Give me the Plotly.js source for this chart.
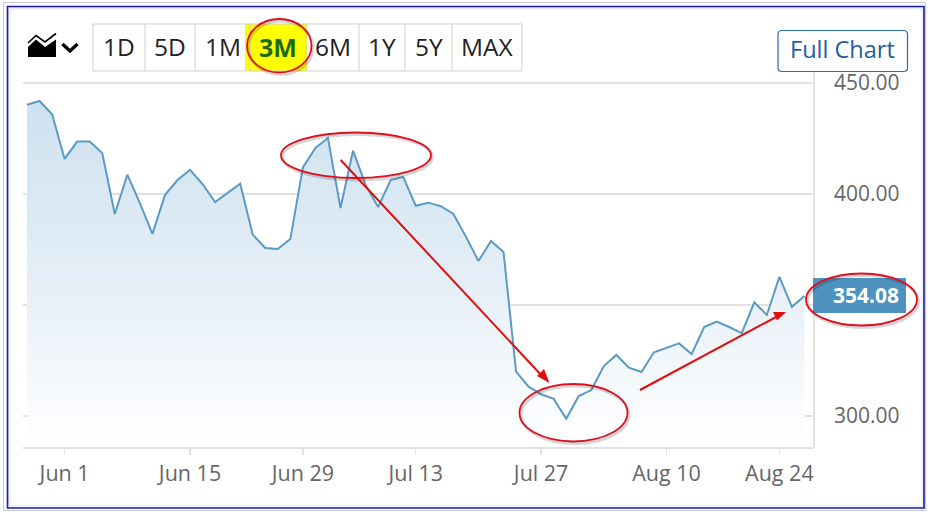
<!DOCTYPE html>
<html>
<head>
<meta charset="utf-8">
<script src="https://cdn.plot.ly/plotly-3.0.1.min.js"></script>
<style>html,body{margin:0;padding:0;background:#fff}#chart{width:931px;height:512px}</style>
</head>
<body>
<div id="chart"></div>
<script>
const dates = ["May 27","May 28","May 29","Jun 1","Jun 2","Jun 3","Jun 4","Jun 5","Jun 8","Jun 9","Jun 10","Jun 11","Jun 12",
"Jun 15","Jun 16","Jun 17","Jun 18","Jun 22","Jun 23","Jun 24","Jun 25","Jun 26","Jun 29","Jun 30","Jul 1","Jul 2",
"Jul 6","Jul 7","Jul 8","Jul 9","Jul 10","Jul 13","Jul 14","Jul 15","Jul 16","Jul 17","Jul 20","Jul 21","Jul 22","Jul 23","Jul 24",
"Jul 27","Jul 28","Jul 29","Jul 30","Jul 31","Aug 3","Aug 4","Aug 5","Aug 6","Aug 7","Aug 10","Aug 11","Aug 12","Aug 13","Aug 14",
"Aug 17","Aug 18","Aug 19","Aug 20","Aug 24","Aug 25","Aug 26"];
const prices = [440.2,441.9,435.9,415.8,423.6,423.6,418.5,391.0,408.7,395.9,382.0,399.5,406.3,410.9,404.5,396.4,400.5,404.6,381.7,375.7,375.2,379.7,
412.0,420.7,425.2,393.7,419.5,404.1,394.1,406.3,407.7,394.7,396.1,394.5,391.0,380.8,369.8,378.8,373.9,
320.0,313.2,309.8,307.7,298.8,309.0,311.7,322.5,327.5,321.8,319.8,328.7,330.8,332.7,327.9,340.1,342.5,340.1,337.3,351.2,345.5,362.7,349.2,354.08];
const xTickDates = ["Jun 1","Jun 15","Jun 29","Jul 13","Jul 27","Aug 10","Aug 24"];
const yTickVals = [300,350,400,450];
const yTickText = ["300.00","","400.00","450.00"];
const rangeButtons = ["1D","5D","1M","3M","6M","1Y","5Y","MAX"];
const buttonEdges = [93,145,195,250,306,359,405,452,522];
const lastPrice = "354.08";

const L=23,R=814,T=81,B=447;
const fx=x=>(x-L)/(R-L), fy=y=>(B-y)/(B-T);
const rect=(x0,y0,x1,y1,o)=>Object.assign({type:'rect',xref:'paper',yref:'paper',x0:fx(x0),x1:fx(x1),y0:fy(y0),y1:fy(y1),line:{width:0}},o);
const ell=(x0,y0,x1,y1,o)=>Object.assign({type:'circle',xref:'paper',yref:'paper',x0:fx(x0),x1:fx(x1),y0:fy(y0),y1:fy(y1)},o);
const seg=(x0,y0,x1,y1,c,w)=>({type:'line',xref:'paper',yref:'paper',x0:fx(x0),x1:fx(x1),y0:fy(y0),y1:fy(y1),line:{color:c,width:w}});
const poly=(pts,fill,line)=>({type:'path',xref:'paper',yref:'paper',path:'M'+pts.map(p=>fx(p[0])+','+fy(p[1])).join(' L')+(fill?' Z':''),fillcolor:fill||'rgba(0,0,0,0)',line:line||{width:0}});

const shapes=[];
// outer frames
shapes.push(rect(3.5,2.5,925.5,510.5,{line:{color:'#c8c8c8',width:1}}));
shapes.push(rect(9,8,923,507,{line:{color:'rgba(80,80,200,0.12)',width:3}}));
shapes.push(rect(7.5,6.5,924,508,{line:{color:'#1c1cb0',width:1.6}}));
// range buttons
shapes.push(rect(245,24,307.5,71,{fillcolor:'#ffff00'}));
shapes.push(rect(buttonEdges[0],24,buttonEdges[8],71,{line:{color:'#cfcfcf',width:1}}));
buttonEdges.slice(1,-1).forEach(x=>shapes.push(seg(x,24,x,71,'#cfcfcf',1)));
// chart-type icon
shapes.push(poly([[28,57],[28,47],[36,39.5],[45,47],[56,39.5],[56,57]],'#000'));
shapes.push(poly([[28,43],[36,35.5],[45,42],[56,33.5]],null,{color:'#000',width:1.6}));
shapes.push(poly([[62.5,44],[70,51],[77.5,44]],null,{color:'#000',width:3.4}));
// right frame line of the plot
shapes.push(seg(814,72,814,447,'#e2e2e2',2));
// full chart button
const bx0=fx(778),bx1=fx(907.5),by0=fy(30.5),by1=fy(71.5),rx=4/(R-L),ry=4/(B-T);
shapes.push({type:'path',xref:'paper',yref:'paper',path:`M${bx0+rx},${by0} L${bx1-rx},${by0} Q${bx1},${by0} ${bx1},${by0-ry} L${bx1},${by1+ry} Q${bx1},${by1} ${bx1-rx},${by1} L${bx0+rx},${by1} Q${bx0},${by1} ${bx0},${by1+ry} L${bx0},${by0-ry} Q${bx0},${by0} ${bx0+rx},${by0} Z`,line:{color:'#2b6ca6',width:1.2},fillcolor:'#fff'});
// price tag
shapes.push(rect(813,278,906,313,{fillcolor:'#4e92bf'}));
// annotation ellipses with soft shadows
const ellipses=[[247,19,311.5,72.5],[281,132.5,431,178],[519.5,384,627.5,441.5],[806,273.5,917,325.5]];
ellipses.forEach(e=>{
  shapes.push(ell(e[0]+1.5,e[1]+2,e[2]+1.5,e[3]+2,{line:{color:'rgba(0,0,0,0.16)',width:3}}));
  shapes.push(ell(e[0],e[1],e[2],e[3],{line:{color:'#dd1020',width:1.8}}));
});
// arrows
shapes.push(seg(340.7,160,543,377,'#e00d0d',2));
shapes.push(poly([[549.5,383],[537,376],[544,369]],'#e00d0d'));
shapes.push(seg(640,390,776,317,'#e00d0d',2));
shapes.push(poly([[786,312],[773,312],[777,320.5]],'#e00d0d'));

const annotations=[];
const txt=(s,x,y,o)=>Object.assign({text:s,xref:'paper',yref:'paper',x:fx(x),y:fy(y),showarrow:false,xanchor:'center',yanchor:'middle'},o);
rangeButtons.forEach((b,i)=>{
  const cx=(buttonEdges[i]+buttonEdges[i+1])/2;
  const on=b==='3M';
  annotations.push(txt(on?'<b>'+b+'</b>':b,cx,46.5,{font:{family:'Open Sans',size:on?25:24.5,color:on?'#1c6a12':'#222'}}));
});
annotations.push(txt('Full Chart',842.5,49.5,{font:{family:'Open Sans',size:23.5,color:'#22609e',weight:500}}));
annotations.push({text:'<b>'+lastPrice+'</b>',xref:'paper',yref:'y',x:fx(901),y:parseFloat(lastPrice),yshift:1,showarrow:false,xanchor:'right',yanchor:'middle',font:{family:'Open Sans',size:21,color:'#fff'}});

const trace={type:'scatter',mode:'lines',x:dates,y:prices,line:{color:'#5b9ac3',width:2},
  fill:'tozeroy',fillgradient:{type:'vertical',start:286,stop:442,colorscale:[[0,'rgba(255,255,255,1)'],[0.5,'#e4eef6'],[1,'#cde1ef']]},hoverinfo:'skip'};
const layout={width:931,height:512,margin:{l:L,r:931-R,t:T,b:512-B},paper_bgcolor:'#fff',plot_bgcolor:'rgba(0,0,0,0)',showlegend:false,
  font:{family:'Open Sans',color:'#666'},
  xaxis:{type:'category',range:[-0.32,62.76],tickmode:'array',tickvals:xTickDates,ticktext:xTickDates,showgrid:false,showline:true,linecolor:'#e2e2e2',linewidth:2,ticks:'outside',ticklen:6,tickcolor:'#e2e2e2',tickwidth:1.5,tickfont:{family:'Open Sans',size:21.5,color:'#666'},fixedrange:true},
  yaxis:{side:'right',range:[286.04,450.9],tickmode:'array',tickvals:yTickVals,ticktext:yTickText,showgrid:true,gridcolor:'#e2e2e2',gridwidth:2,zeroline:false,showline:false,ticks:'',ticklabelstandoff:19,tickfont:{family:'Open Sans',size:21,color:'#666'},fixedrange:true},
  shapes,annotations};
Plotly.newPlot('chart',[trace],layout,{displayModeBar:false,staticPlot:true});
</script>
</body>
</html>
